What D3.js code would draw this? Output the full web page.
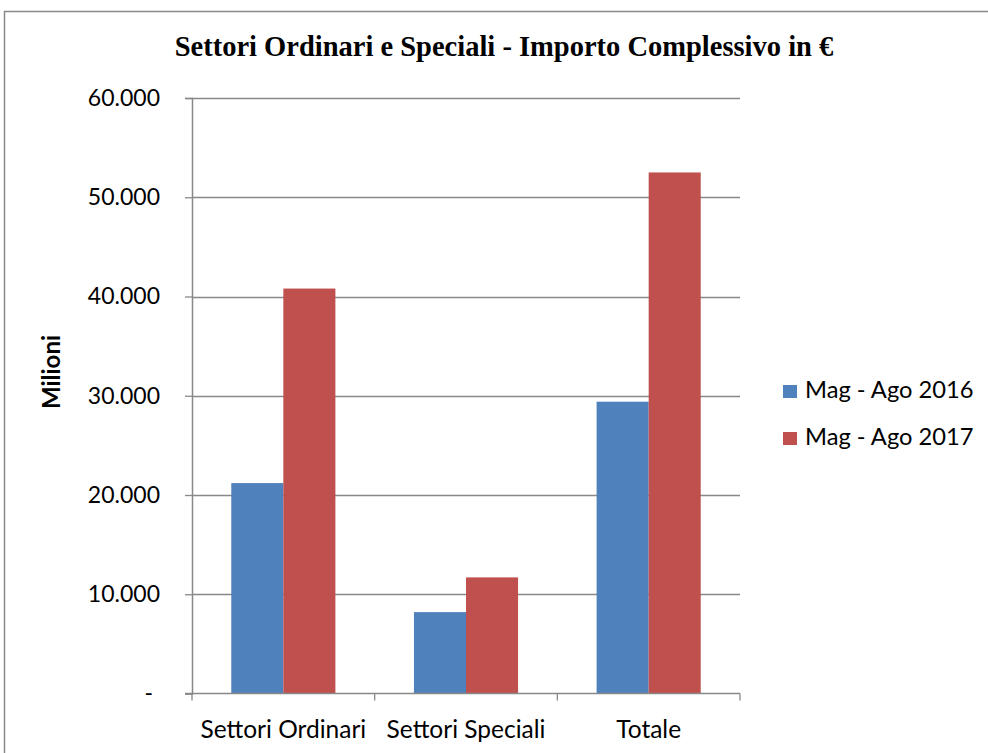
<!DOCTYPE html>
<html>
<head>
<meta charset="utf-8">
<script src="https://cdn.jsdelivr.net/npm/d3@7"></script>
<style>
  body { margin: 0; background: #fff; }
  text { font-family: Lato, "Open Sans", sans-serif; }
</style>
</head>
<body>
<div id="chart"></div>
<script>
var categories = ["Settori Ordinari", "Settori Speciali", "Totale"];
var seriesNames = ["Mag - Ago 2016", "Mag - Ago 2017"];
var values2016 = [21200, 8200, 29400];
var values2017 = [40800, 11700, 52500];
var yTicks = [0, 10000, 20000, 30000, 40000, 50000, 60000];
var colors = ["#4F81BD", "#C0504D"];

var svg = d3.select("#chart")
    .append("svg")
    .attr("width", 988)
    .attr("height", 753);

// outer chart border
svg.append("rect")
    .attr("x", 4.5)
    .attr("y", 11.5)
    .attr("width", 1000)
    .attr("height", 800)
    .attr("fill", "none")
    .attr("stroke", "#888")
    .attr("stroke-width", 1.5);

var margin = {left: 192, top: 98, right: 740, bottom: 693.5};

var x0 = d3.scaleBand()
    .domain(categories)
    .range([margin.left, margin.right])
    .paddingInner(0.43)
    .paddingOuter(0.215);

var x1 = d3.scaleBand()
    .domain(seriesNames)
    .range([0, x0.bandwidth()]);

var y = d3.scaleLinear()
    .domain([0, 60000])
    .range([margin.bottom, margin.top]);

var it = d3.formatLocale({decimal: ",", thousands: ".", grouping: [3], currency: ["", "€"]});
var fmt = it.format(",");

// gridlines
svg.append("g")
    .selectAll("line")
    .data(yTicks.slice(1))
  .enter().append("line")
    .attr("x1", margin.left)
    .attr("x2", margin.right)
    .attr("y1", function(d) { return Math.round(y(d)) + 0.5; })
    .attr("y2", function(d) { return Math.round(y(d)) + 0.5; })
    .attr("stroke", "#888")
    .attr("stroke-width", 1.3);

// bars
var rows = categories.map(function(c, i) {
  return [{s: seriesNames[0], v: values2016[i], c: c}, {s: seriesNames[1], v: values2017[i], c: c}];
});

svg.append("g")
    .selectAll("g")
    .data(rows)
  .enter().append("g")
    .attr("transform", function(d) { return "translate(" + x0(d[0].c) + ",0)"; })
    .selectAll("rect")
    .data(function(d) { return d; })
  .enter().append("rect")
    .attr("x", function(d) { return x1(d.s); })
    .attr("width", x1.bandwidth())
    .attr("y", function(d) { return y(d.v); })
    .attr("height", function(d) { return y(0) - y(d.v); })
    .attr("fill", function(d, i) { return colors[i]; });

// y axis
var yAxis = svg.append("g")
    .attr("transform", "translate(" + margin.left + ",0)")
    .call(d3.axisLeft(y)
        .tickValues(yTicks)
        .tickSize(7)
        .tickPadding(25)
        .tickFormat(function(d) { return d === 0 ? "-" : fmt(d); }));
yAxis.select(".domain").attr("stroke", "#888").attr("stroke-width", 1.5);
yAxis.selectAll(".tick line").attr("stroke", "#888").attr("stroke-width", 1.3);
yAxis.selectAll(".tick text")
    .style("font-size", "23px")
    .style("font-family", "Lato")
    .attr("fill", "#000");
// the zero label "-" sits a little further left
yAxis.selectAll(".tick text")
    .filter(function(d) { return d === 0; })
    .attr("x", -39);

// x axis
var boundaries = [margin.left].concat(categories.map(function(c) {
  return x0(c) + x0.bandwidth() + x0.step() * x0.paddingInner() / 2;
}));

svg.append("line")
    .attr("x1", margin.left - 7)
    .attr("x2", margin.right)
    .attr("y1", margin.bottom)
    .attr("y2", margin.bottom)
    .attr("stroke", "#888")
    .attr("stroke-width", 1.5);

svg.append("g")
    .selectAll("line")
    .data(boundaries)
  .enter().append("line")
    .attr("x1", function(d) { return d; })
    .attr("x2", function(d) { return d; })
    .attr("y1", margin.bottom)
    .attr("y2", margin.bottom + 7)
    .attr("stroke", "#888")
    .attr("stroke-width", 1.3);

svg.append("g")
    .selectAll("text")
    .data(categories)
  .enter().append("text")
    .attr("x", function(d) { return x0(d) + x0.bandwidth() / 2; })
    .attr("y", 738)
    .attr("text-anchor", "middle")
    .style("font-size", "24.5px")
    .text(function(d) { return d; });

// y axis title
svg.append("text")
    .attr("transform", "translate(60,372) rotate(-90)")
    .attr("text-anchor", "middle")
    .style("font-size", "24px")
    .style("font-weight", "bold")
    .text("Milioni");

// title
svg.append("text")
    .attr("x", 504)
    .attr("y", 56)
    .attr("text-anchor", "middle")
    .style("font-family", "'Liberation Serif', 'DejaVu Serif', serif")
    .style("font-size", "28.5px")
    .style("font-weight", "bold")
    .text("Settori Ordinari e Speciali - Importo Complessivo in €");

// legend
var legend = svg.append("g")
    .selectAll("g")
    .data(seriesNames)
  .enter().append("g")
    .attr("transform", function(d, i) { return "translate(783," + (385 + i * 47) + ")"; });

legend.append("rect")
    .attr("width", 14)
    .attr("height", 13)
    .attr("fill", function(d, i) { return colors[i]; });

legend.append("text")
    .attr("x", 22)
    .attr("y", 13)
    .style("font-size", "23.7px")
    .text(function(d) { return d; });
</script>
</body>
</html>
